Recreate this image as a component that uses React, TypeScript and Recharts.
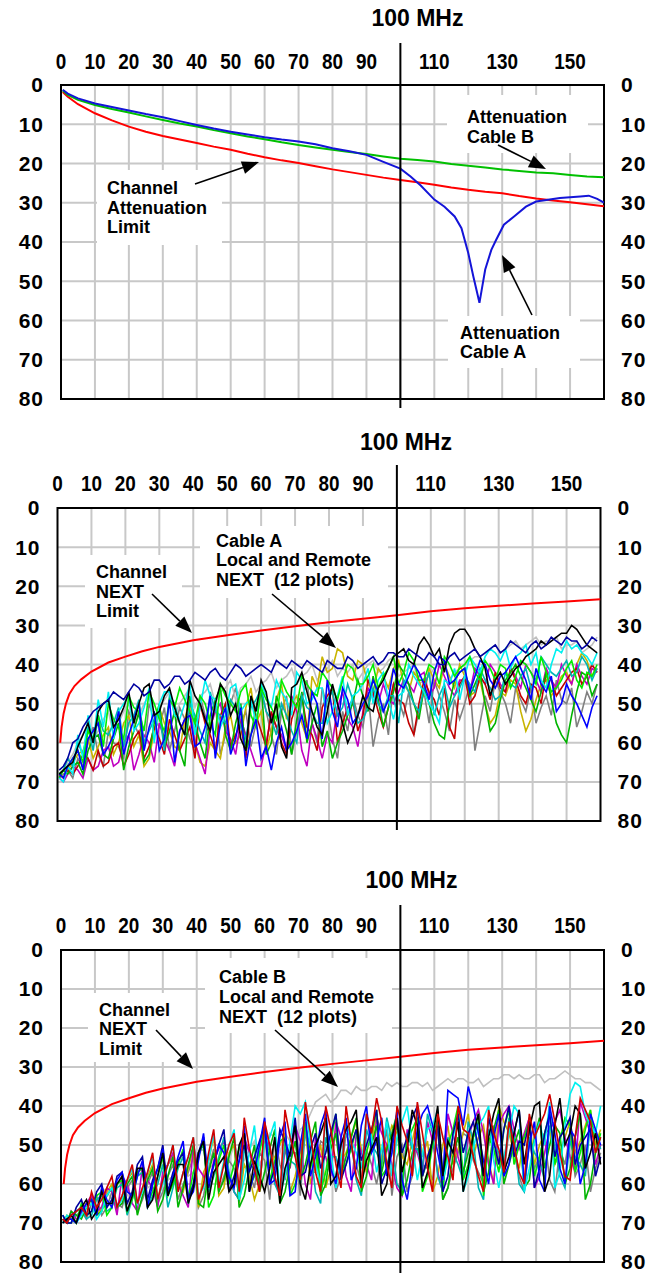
import React from 'react';
import { LineChart, Line, XAxis, YAxis, CartesianGrid, ReferenceLine, ReferenceArea } from 'recharts';

// ---------- axes ----------
const xTicks = [0, 10, 20, 30, 40, 50, 60, 70, 80, 90, 110, 130, 150];
const yTicks = [0, 10, 20, 30, 40, 50, 60, 70, 80];
const gridX = [10, 20, 30, 40, 50, 60, 70, 80, 90, 100, 110, 120, 130, 140, 150];
const gridY = [10, 20, 30, 40, 50, 60, 70];

// ---------- panel 1 : attenuation ----------
const attenFreq = [0.5, 2, 5, 10, 15, 20, 25, 30, 35, 40, 45, 50, 55, 60, 65, 70, 75, 80, 85, 90, 95, 100, 105, 110, 115, 120, 125, 130, 135, 140, 145, 150, 155, 160];
const attenLimit = [1.8, 3.0, 4.9, 7.2, 9.0, 10.6, 11.9, 13.0, 13.9, 14.8, 15.7, 16.5, 17.5, 18.4, 19.2, 19.9, 20.7, 21.5, 22.2, 22.9, 23.6, 24.2, 24.8, 25.4, 26.1, 26.7, 27.2, 27.6, 28.3, 28.9, 29.4, 29.9, 30.4, 30.9];
const attenCableB = [1.4, 2.5, 3.8, 5.1, 6.1, 7.0, 8.0, 8.9, 9.8, 10.6, 11.5, 12.3, 13.1, 13.8, 14.6, 15.3, 15.9, 16.5, 17.1, 17.6, 18.2, 18.8, 19.1, 19.5, 20.1, 20.6, 21.0, 21.5, 21.9, 22.3, 22.5, 22.9, 23.3, 23.5];
const cableAFreq = [0.5, 2, 5, 10, 15, 20, 25, 30, 35, 40, 45, 50, 55, 60, 65, 70, 75, 80, 85, 90, 95, 100, 103, 106, 110, 113, 116, 118, 120, 121.5, 122.5, 123.3, 124, 125, 126.8, 128.2, 130.5, 133.5, 137, 140, 143, 147, 150, 153, 155.5, 158, 160];
const attenCableA = [1.2, 2.2, 3.4, 4.7, 5.6, 6.5, 7.4, 8.2, 9.2, 10.2, 11.1, 11.9, 12.6, 13.3, 13.9, 14.4, 15.1, 16.1, 16.9, 17.8, 19.6, 21.3, 23.3, 25.6, 29.2, 31.0, 33.5, 36.5, 42.8, 48.8, 52.5, 55.5, 52.0, 47.0, 42.0, 39.5, 35.6, 33.5, 31.0, 29.7, 29.3, 28.8, 28.6, 28.4, 28.2, 29.0, 30.0];

// ---------- NEXT limit (panels 2 & 3) ----------
const nextLimitFreq = [0.8, 1.2, 1.8, 2.5, 3.5, 5, 7, 10, 15, 20, 25, 30, 40, 50, 60, 70, 80, 90, 100, 110, 120, 130, 140, 150, 160];
const nextLimit = [60, 56, 52.5, 50, 47.5, 45.5, 43.8, 41.8, 39.5, 38, 36.6, 35.5, 33.8, 32.5, 31.3, 30.2, 29.2, 28.3, 27.4, 26.4, 25.6, 25, 24.4, 23.9, 23.3];

// ---------- NEXT traces: main sweep points + in-between sweep points ----------
const nextFreq = [0.5, 3, 6, 9, 12, 15, 18, 21, 24, 27, 30, 33, 36, 39, 42, 45, 48, 51, 54, 57, 60, 63, 66, 69, 72, 75, 78, 81, 84, 87, 90, 93, 96, 99, 102, 105, 108, 111, 114, 117, 120, 123, 126, 129, 132, 135, 138, 141, 144, 147, 150, 153, 156, 159];
const nextFreqMid = [1.75, 4.5, 7.5, 10.5, 13.5, 16.5, 19.5, 22.5, 25.5, 28.5, 31.5, 34.5, 37.5, 40.5, 43.5, 46.5, 49.5, 52.5, 55.5, 58.5, 61.5, 64.5, 67.5, 70.5, 73.5, 76.5, 79.5, 82.5, 85.5, 88.5, 91.5, 94.5, 97.5, 100.5, 103.5, 106.5, 109.5, 112.5, 115.5, 118.5, 121.5, 124.5, 127.5, 130.5, 133.5, 136.5, 139.5, 142.5, 145.5, 148.5, 151.5, 154.5, 157.5];

// Cable A
const aGrey = [69, 67, 64, 60, 63, 57, 61, 52, 58, 50, 56, 62, 51, 59, 48, 57, 63, 50, 55, 61, 47, 58, 52, 63, 49, 55, 46, 59, 52, 48, 56, 61, 50, 45, 53, 58, 47, 44, 52, 49, 50, 62, 48, 44, 50, 46, 52, 55, 48, 44, 50, 56, 47, 45];
const aGreyMid = [68, 69, 66, 56, 66, 60, 64, 55, 62, 54, 51, 57, 54, 62, 53, 50, 58, 46, 52, 55, 52, 63, 48, 57, 44, 60, 51, 64, 57, 53, 47, 54, 58, 49, 47, 52, 55, 48, 57, 54, 45, 55, 52, 47, 55, 49, 46, 51, 53, 49, 46, 52, 50];
const aLightGrey = [68, 65, 60, 55, 57, 52, 55, 50, 53, 48, 51, 47, 50, 46, 48, 45, 47, 44, 46, 43, 45, 42, 44, 41, 43, 40, 42, 39, 41, 40, 42, 39, 41, 38, 42, 40, 44, 41, 39, 42, 40, 38, 37, 35, 36, 34, 35, 33, 34, 33, 35, 34, 36, 33];
const aLightGreyMid = [67, 63, 58, 59, 54, 58, 52, 56, 50, 55, 49, 53, 48, 51, 47, 50, 46, 49, 45, 47, 44, 46, 43, 45, 42, 44, 41, 43, 42, 44, 40, 42, 39, 43, 41, 45, 43, 40, 44, 41, 39, 38, 36, 37, 35, 36, 34, 35, 34, 36, 35, 37, 35];
const aOlive = [68, 67, 63, 59, 61, 56, 60, 53, 58, 64, 51, 57, 62, 49, 65, 60, 64, 53, 58, 46, 52, 57, 45, 50, 55, 43, 38, 41, 37, 44, 40, 47, 43, 41, 45, 42, 48, 44, 40, 46, 43, 47, 50, 53, 48, 45, 57, 49, 44, 46, 42, 40, 39, 41];
const aOliveMid = [69, 65, 62, 64, 58, 63, 55, 61, 66, 57, 55, 61, 54, 60, 66, 62, 56, 60, 51, 55, 62, 49, 54, 48, 59, 46, 42, 36, 43, 39, 45, 41, 46, 39, 47, 44, 41, 46, 43, 40, 48, 44, 55, 47, 44, 52, 54, 45, 48, 43, 45, 37, 43];
const aMagenta = [69, 68, 67, 64, 66, 61, 65, 58, 63, 60, 55, 62, 57, 52, 64, 56, 50, 59, 54, 62, 66, 53, 58, 48, 62, 55, 64, 60, 47, 56, 52, 48, 45, 50, 44, 47, 42, 46, 43, 48, 44, 41, 45, 42, 47, 43, 40, 44, 41, 46, 43, 40, 45, 42];
const aMagentaMid = [70, 66, 69, 67, 62, 66, 60, 67, 58, 65, 59, 66, 54, 60, 68, 52, 57, 63, 58, 66, 60, 56, 62, 52, 66, 59, 58, 51, 54, 61, 46, 50, 49, 47, 45, 43, 48, 40, 46, 44, 47, 43, 40, 45, 41, 46, 42, 47, 44, 40, 45, 43, 41];
const aRed = [68, 67, 66, 64, 62, 65, 60, 63, 57, 61, 59, 54, 62, 56, 50, 58, 53, 61, 55, 49, 57, 52, 60, 54, 48, 58, 51, 46, 55, 49, 53, 47, 56, 45, 50, 58, 44, 49, 46, 59, 43, 48, 45, 42, 47, 44, 50, 46, 42, 48, 44, 41, 43, 42];
const aRedMid = [69, 68, 63, 67, 66, 61, 66, 59, 64, 56, 63, 58, 59, 64, 55, 62, 50, 58, 64, 53, 61, 56, 63, 50, 56, 62, 48, 60, 51, 57, 44, 52, 51, 49, 55, 50, 47, 53, 56, 45, 50, 43, 49, 46, 41, 48, 45, 50, 44, 46, 42, 45, 40];
const aGreen = [69, 68, 65, 62, 58, 64, 55, 61, 52, 63, 50, 57, 62, 48, 60, 53, 46, 62, 50, 58, 45, 60, 52, 63, 47, 55, 61, 64, 57, 50, 48, 43, 56, 47, 42, 50, 46, 55, 59, 44, 41, 45, 50, 55, 44, 40, 46, 52, 42, 55, 60, 47, 43, 45];
const aGreenMid = [67, 66, 68, 59, 63, 59, 67, 57, 65, 55, 61, 52, 66, 55, 64, 49, 58, 55, 62, 51, 63, 48, 57, 54, 60, 50, 57, 60, 53, 44, 52, 49, 51, 40, 45, 54, 50, 58, 50, 42, 48, 42, 57, 49, 42, 43, 49, 47, 49, 58, 53, 42, 48];
const aTeal = [68, 64, 60, 56, 53, 58, 51, 55, 49, 57, 52, 48, 55, 50, 57, 47, 53, 49, 56, 51, 46, 54, 50, 57, 48, 52, 55, 47, 51, 49, 54, 46, 52, 48, 44, 50, 46, 53, 45, 48, 43, 47, 44, 49, 42, 46, 41, 44, 40, 43, 39, 42, 40, 41];
const aTealMid = [67, 66, 63, 62, 57, 55, 61, 53, 60, 54, 62, 50, 58, 53, 60, 52, 55, 51, 59, 49, 52, 58, 53, 60, 51, 55, 49, 53, 45, 55, 51, 50, 48, 55, 47, 52, 42, 48, 51, 46, 45, 41, 46, 48, 45, 43, 46, 38, 42, 41, 43, 38, 44];
const aCyan = [69, 66, 58, 53, 49, 47, 52, 48, 55, 46, 50, 47, 54, 45, 51, 48, 56, 46, 52, 49, 45, 51, 47, 53, 44, 49, 46, 52, 43, 48, 45, 50, 42, 54, 47, 43, 47, 52, 44, 41, 43, 40, 38, 37, 36, 38, 35, 37, 46, 36, 34, 35, 38, 37];
const aCyanMid = [70, 68, 64, 60, 56, 59, 50, 57, 51, 60, 47, 53, 50, 58, 44, 49, 53, 45, 50, 55, 48, 44, 49, 42, 50, 46, 55, 48, 53, 47, 41, 44, 49, 48, 40, 45, 50, 55, 45, 49, 38, 42, 36, 39, 41, 37, 40, 44, 40, 37, 36, 37, 40];
const aLime = [68, 66, 62, 57, 53, 50, 56, 48, 52, 47, 54, 49, 46, 52, 48, 55, 45, 50, 47, 53, 46, 51, 44, 49, 43, 47, 42, 46, 44, 41, 45, 40, 43, 38, 42, 39, 44, 41, 38, 43, 40, 42, 39, 44, 41, 43, 40, 45, 42, 46, 41, 44, 42, 40];
const aLimeMid = [67, 64, 65, 59, 61, 54, 59, 51, 57, 50, 57, 51, 49, 55, 50, 58, 48, 52, 45, 56, 49, 54, 47, 51, 45, 48, 44, 49, 40, 45, 43, 46, 41, 45, 37, 44, 40, 45, 40, 41, 38, 44, 41, 40, 46, 39, 42, 38, 47, 44, 39, 46, 43];
const aBlue = [68, 66, 62, 59, 55, 61, 52, 58, 50, 56, 62, 49, 57, 53, 60, 48, 55, 63, 51, 58, 64, 67, 56, 60, 53, 47, 59, 52, 46, 55, 50, 44, 52, 41, 46, 40, 45, 42, 39, 44, 41, 43, 40, 46, 42, 38, 44, 41, 47, 52, 45, 50, 56, 48];
const aBlueMid = [69, 64, 67, 57, 63, 58, 63, 54, 62, 52, 59, 65, 54, 61, 56, 64, 51, 59, 66, 54, 61, 60, 62, 57, 59, 50, 44, 56, 49, 53, 48, 47, 49, 45, 43, 42, 49, 38, 45, 42, 47, 39, 44, 43, 40, 41, 49, 45, 43, 50, 48, 53, 51];
const aBlack = [68, 66, 61, 55, 52, 49, 54, 47, 50, 45, 52, 46, 55, 44, 50, 57, 45, 53, 59, 48, 44, 55, 61, 46, 42, 52, 58, 45, 55, 57, 48, 52, 44, 38, 36, 40, 33, 38, 42, 32, 31, 36, 41, 44, 45, 41, 38, 36, 35, 33, 32, 31, 35, 37];
const aBlackMid = [67, 65, 58, 60, 50, 56, 51, 55, 46, 53, 48, 51, 58, 48, 54, 50, 47, 50, 62, 52, 47, 50, 64, 45, 47, 56, 52, 50, 60, 53, 51, 46, 41, 37, 39, 35, 35, 36, 35, 31, 33, 38, 48, 42, 43, 40, 37, 34, 34, 32, 30, 33, 36];
const aNavy = [67, 64, 59, 54, 51, 49, 48, 47, 46, 47, 44, 45, 43, 44, 43, 42, 43, 42, 41, 42, 40, 42, 40, 39, 41, 40, 42, 40, 41, 39, 40, 38, 39, 37, 38, 37, 39, 38, 40, 37, 38, 36, 37, 35, 36, 35, 37, 34, 35, 34, 33, 34, 35, 34];
const aNavyMid = [66, 60, 56, 52, 50, 47, 49, 45, 48, 44, 46, 43, 45, 42, 44, 41, 44, 40, 43, 41, 41, 39, 41, 40, 39, 41, 39, 41, 38, 41, 39, 40, 37, 38, 36, 38, 37, 40, 38, 39, 37, 38, 36, 37, 34, 36, 35, 36, 33, 35, 34, 36, 33];

// Cable B
const bLightGrey = [69, 68, 66, 63, 61, 64, 59, 62, 57, 60, 55, 58, 53, 57, 51, 55, 52, 50, 54, 49, 52, 48, 47, 50, 45, 39, 37, 38, 36, 35, 36, 35, 34, 34, 35, 34, 34, 35, 33, 33, 34, 33, 34, 33, 32, 32, 33, 32, 33, 32, 32, 33, 34, 36];
const bLightGreyMid = [70, 67, 65, 66, 62, 60, 63, 58, 61, 56, 59, 54, 58, 52, 56, 50, 54, 53, 51, 55, 47, 52, 49, 46, 42, 38, 39, 36, 37, 36, 35, 36, 35, 35, 34, 35, 36, 34, 34, 33, 34, 35, 33, 32, 33, 33, 32, 34, 33, 31, 33, 34, 35];
const bGrey = [69, 70, 67, 65, 68, 62, 66, 59, 64, 57, 62, 55, 60, 53, 63, 51, 58, 56, 50, 61, 54, 48, 59, 52, 46, 57, 50, 62, 47, 55, 51, 60, 46, 53, 62, 49, 56, 45, 61, 52, 48, 57, 50, 54, 46, 58, 49, 53, 59, 51, 47, 55, 62, 52];
const bGreyMid = [70, 68, 69, 63, 66, 65, 61, 67, 60, 65, 58, 64, 57, 66, 56, 62, 54, 63, 57, 52, 64, 55, 52, 63, 57, 49, 54, 58, 51, 60, 55, 53, 63, 50, 58, 55, 59, 64, 56, 47, 54, 60, 45, 58, 52, 62, 56, 48, 62, 55, 58, 50, 56];
const bOlive = [70, 69, 67, 64, 66, 60, 63, 57, 61, 55, 58, 53, 62, 51, 57, 48, 61, 50, 55, 64, 49, 53, 47, 58, 45, 55, 61, 46, 52, 44, 57, 42, 50, 47, 55, 43, 49, 58, 45, 51, 42, 48, 54, 40, 47, 56, 43, 50, 46, 52, 44, 49, 41, 46];
const bOliveMid = [68, 70, 65, 68, 62, 66, 59, 65, 58, 64, 55, 60, 56, 66, 54, 63, 52, 65, 58, 60, 55, 50, 62, 52, 60, 50, 56, 54, 48, 51, 49, 55, 45, 53, 49, 53, 62, 50, 55, 47, 53, 45, 60, 44, 52, 48, 55, 47, 55, 48, 52, 45, 50];
const bMagenta = [69, 67, 68, 63, 66, 62, 58, 65, 55, 61, 57, 52, 63, 50, 58, 54, 49, 62, 48, 56, 46, 59, 51, 45, 60, 48, 53, 44, 58, 47, 55, 43, 50, 61, 46, 52, 44, 57, 42, 53, 48, 41, 55, 45, 40, 51, 43, 58, 46, 41, 53, 39, 47, 50];
const bMagentaMid = [70, 69, 65, 67, 61, 68, 60, 67, 59, 66, 55, 60, 66, 56, 61, 51, 58, 64, 52, 60, 51, 63, 56, 49, 64, 53, 58, 48, 62, 52, 59, 47, 55, 63, 50, 57, 49, 62, 47, 58, 44, 47, 60, 42, 46, 47, 61, 52, 44, 48, 57, 43, 55];
const bTeal = [68, 70, 66, 68, 63, 66, 60, 64, 57, 63, 55, 61, 53, 60, 50, 58, 48, 62, 51, 56, 47, 60, 49, 55, 45, 62, 48, 53, 44, 59, 46, 52, 43, 60, 47, 51, 42, 58, 48, 55, 44, 61, 46, 52, 43, 60, 48, 54, 45, 58, 49, 55, 44, 51];
const bTealMid = [70, 67, 69, 64, 67, 61, 68, 58, 66, 60, 66, 56, 65, 52, 62, 53, 57, 64, 55, 61, 52, 63, 54, 60, 51, 65, 53, 58, 49, 63, 50, 55, 49, 62, 51, 56, 47, 62, 52, 59, 49, 64, 50, 57, 48, 62, 52, 59, 50, 61, 53, 58, 47];
const bGreen = [69, 67, 69, 64, 67, 61, 65, 58, 63, 56, 64, 53, 61, 50, 66, 52, 59, 48, 63, 50, 57, 46, 62, 49, 55, 44, 60, 47, 53, 43, 58, 45, 51, 42, 59, 47, 54, 43, 61, 48, 52, 44, 57, 41, 55, 46, 59, 43, 50, 47, 56, 42, 60, 48];
const bGreenMid = [70, 68, 66, 68, 63, 66, 60, 68, 59, 67, 58, 66, 55, 65, 57, 62, 53, 66, 56, 62, 51, 65, 55, 59, 49, 63, 51, 58, 48, 62, 50, 57, 47, 63, 52, 58, 49, 64, 53, 57, 48, 62, 46, 60, 50, 61, 48, 56, 45, 60, 48, 64, 52];
const bLime = [70, 68, 65, 67, 62, 66, 59, 64, 56, 62, 53, 60, 51, 57, 49, 63, 50, 55, 47, 58, 45, 54, 48, 60, 44, 51, 57, 42, 55, 46, 52, 41, 56, 45, 49, 43, 58, 44, 50, 40, 55, 42, 48, 57, 41, 50, 44, 53, 42, 49, 45, 52, 41, 47];
const bLimeMid = [69, 70, 68, 63, 68, 60, 67, 57, 65, 58, 63, 55, 64, 53, 66, 54, 60, 51, 61, 52, 59, 49, 63, 55, 56, 62, 49, 58, 51, 60, 47, 58, 49, 60, 46, 62, 50, 61, 46, 59, 48, 63, 51, 46, 55, 48, 58, 47, 55, 43, 57, 46, 52];
const bCyan = [70, 69, 68, 65, 67, 61, 64, 56, 62, 53, 60, 50, 57, 48, 61, 47, 54, 46, 59, 45, 50, 44, 58, 40, 39, 55, 43, 61, 45, 52, 42, 57, 44, 48, 40, 59, 46, 41, 54, 43, 58, 45, 40, 61, 47, 42, 56, 44, 39, 57, 37, 35, 45, 40];
const bCyanMid = [68, 70, 66, 69, 63, 66, 59, 65, 57, 64, 55, 62, 53, 63, 54, 60, 50, 64, 52, 58, 48, 63, 49, 42, 50, 60, 52, 54, 49, 56, 48, 51, 58, 44, 50, 52, 45, 59, 48, 62, 51, 43, 54, 53, 40, 62, 49, 50, 61, 45, 34, 42, 47];
const bNavy = [68, 70, 64, 67, 60, 64, 57, 62, 53, 59, 50, 57, 52, 60, 48, 55, 46, 58, 50, 53, 45, 56, 49, 43, 57, 47, 52, 42, 55, 46, 50, 41, 56, 44, 48, 40, 53, 45, 58, 42, 47, 51, 43, 55, 40, 49, 44, 56, 42, 48, 43, 50, 46, 53];
const bNavyMid = [70, 66, 68, 62, 66, 58, 65, 55, 64, 56, 62, 54, 64, 52, 61, 50, 62, 54, 57, 49, 60, 46, 53, 58, 51, 56, 47, 59, 50, 54, 46, 60, 50, 52, 43, 58, 49, 62, 47, 52, 44, 58, 49, 46, 53, 50, 61, 47, 53, 46, 55, 48, 58];
const bBlue = [70, 69, 67, 64, 61, 66, 57, 63, 54, 60, 51, 58, 49, 62, 47, 55, 52, 61, 45, 57, 43, 59, 44, 62, 42, 53, 41, 60, 43, 56, 40, 49, 58, 41, 64, 46, 40, 52, 36, 38, 35, 47, 60, 42, 55, 41, 50, 59, 40, 56, 46, 60, 42, 50];
const bBlueMid = [69, 70, 65, 68, 64, 59, 62, 58, 66, 56, 63, 53, 64, 54, 60, 50, 58, 54, 62, 50, 60, 48, 63, 50, 58, 45, 56, 48, 59, 45, 52, 43, 52, 59, 55, 42, 45, 59, 37, 45, 40, 54, 48, 58, 47, 60, 44, 62, 47, 60, 48, 55, 46];
const bBlack = [70, 68, 66, 69, 62, 65, 58, 63, 56, 64, 52, 59, 55, 61, 49, 57, 53, 60, 47, 54, 62, 48, 56, 45, 64, 50, 43, 58, 46, 41, 54, 48, 60, 43, 51, 45, 57, 40, 49, 44, 56, 42, 48, 38, 53, 41, 46, 39, 58, 38, 47, 42, 52, 55];
const bBlackMid = [69, 70, 64, 67, 65, 60, 67, 56, 66, 58, 63, 55, 65, 52, 64, 55, 62, 50, 62, 58, 56, 65, 52, 60, 55, 47, 60, 50, 44, 60, 51, 63, 48, 57, 41, 61, 48, 58, 52, 62, 47, 58, 42, 57, 47, 55, 40, 62, 45, 50, 40, 56, 47];
const bRed = [69, 68, 66, 62, 64, 58, 63, 55, 61, 52, 59, 50, 57, 48, 60, 46, 55, 47, 43, 56, 44, 58, 41, 53, 39, 57, 40, 55, 40, 58, 42, 38, 55, 40, 49, 39, 56, 42, 53, 40, 47, 58, 41, 51, 44, 57, 42, 45, 37, 52, 59, 38, 44, 48];
const bRedMid = [70, 67, 68, 66, 61, 66, 59, 65, 57, 64, 55, 62, 53, 64, 52, 61, 50, 62, 51, 62, 50, 63, 48, 59, 47, 62, 46, 61, 49, 61, 47, 44, 61, 45, 58, 47, 62, 48, 59, 46, 53, 62, 47, 57, 50, 60, 48, 42, 44, 58, 48, 41, 52];

type Pt = { x: number; y: number };
// merge the main sweep points with the in-between sweep points, in frequency order
const sweep = (main: number[], mid: number[]): Pt[] => {
  const out: Pt[] = [];
  main.forEach((v, i) => {
    out.push({ x: nextFreq[i], y: v });
    if (i < mid.length) out.push({ x: nextFreqMid[i], y: mid[i] });
  });
  return out;
};
const toPts = (xs: number[], ys: number[]): Pt[] => xs.map((x, i) => ({ x, y: ys[i] }));

type Series = { key: string; color: string; width: number; data: Pt[] };

const panel1Series: Series[] = [
  { key: 'limit', color: '#ff0000', width: 2, data: toPts(attenFreq, attenLimit) },
  { key: 'cableB', color: '#00c000', width: 2, data: toPts(attenFreq, attenCableB) },
  { key: 'cableA', color: '#1414d8', width: 2, data: toPts(cableAFreq, attenCableA) },
];

const nw = 1.6;
const panel2Series: Series[] = [
  { key: 'grey', color: '#808080', width: nw, data: sweep(aGrey, aGreyMid) },
  { key: 'lgrey', color: '#c0c0c0', width: nw, data: sweep(aLightGrey, aLightGreyMid) },
  { key: 'olive', color: '#c8b400', width: nw, data: sweep(aOlive, aOliveMid) },
  { key: 'magenta', color: '#c000c0', width: nw, data: sweep(aMagenta, aMagentaMid) },
  { key: 'red', color: '#c00000', width: nw, data: sweep(aRed, aRedMid) },
  { key: 'green', color: '#00b400', width: nw, data: sweep(aGreen, aGreenMid) },
  { key: 'teal', color: '#00b4b4', width: nw, data: sweep(aTeal, aTealMid) },
  { key: 'cyan', color: '#00f0f0', width: nw, data: sweep(aCyan, aCyanMid) },
  { key: 'lime', color: '#00ee00', width: nw, data: sweep(aLime, aLimeMid) },
  { key: 'blue', color: '#0000ff', width: nw, data: sweep(aBlue, aBlueMid) },
  { key: 'black', color: '#000000', width: nw, data: sweep(aBlack, aBlackMid) },
  { key: 'navy', color: '#0000a0', width: nw, data: sweep(aNavy, aNavyMid) },
  { key: 'limit', color: '#ff0000', width: 2, data: toPts(nextLimitFreq, nextLimit) },
];

const panel3Series: Series[] = [
  { key: 'lgrey', color: '#c0c0c0', width: nw, data: sweep(bLightGrey, bLightGreyMid) },
  { key: 'grey', color: '#808080', width: nw, data: sweep(bGrey, bGreyMid) },
  { key: 'olive', color: '#c8b400', width: nw, data: sweep(bOlive, bOliveMid) },
  { key: 'magenta', color: '#c000c0', width: nw, data: sweep(bMagenta, bMagentaMid) },
  { key: 'teal', color: '#00b4b4', width: nw, data: sweep(bTeal, bTealMid) },
  { key: 'green', color: '#00b400', width: nw, data: sweep(bGreen, bGreenMid) },
  { key: 'lime', color: '#00ee00', width: nw, data: sweep(bLime, bLimeMid) },
  { key: 'cyan', color: '#00f0f0', width: nw, data: sweep(bCyan, bCyanMid) },
  { key: 'navy', color: '#0000a0', width: nw, data: sweep(bNavy, bNavyMid) },
  { key: 'blue', color: '#0000ff', width: nw, data: sweep(bBlue, bBlueMid) },
  { key: 'black', color: '#000000', width: nw, data: sweep(bBlack, bBlackMid) },
  { key: 'red', color: '#d00000', width: nw, data: sweep(bRed, bRedMid) },
  { key: 'limit', color: '#ff0000', width: 2, data: toPts(nextLimitFreq, nextLimit) },
];

const FONT = "'Liberation Sans', Arial, Helvetica, sans-serif";

// condensed bold frequency labels along the top
const FreqTick = (props: any) => {
  const { x, y, payload } = props;
  return (
    <text
      transform={`translate(${x},${y}) scale(0.86,1)`}
      textAnchor="middle"
      fontFamily={FONT}
      fontWeight={700}
      fontSize={22}
      fill="#000"
    >
      {payload.value}
    </text>
  );
};

type PanelProps = {
  top: number;
  height: number;
  plotTop: number;
  plotBottom: number;
  plotLeft: number;
  plotRight: number;
  series: Series[];
  xTickMargin: number;
  lineUp: number;
  lineDown: number;
  labelDx: number;
  labelUp: number;
};

function Panel(p: PanelProps) {
  const mhz = (props: any) => {
    const x = props.x1;
    const yTop = Math.min(props.y1, props.y2);
    const yBot = Math.max(props.y1, props.y2);
    return (
      <g>
        <line x1={x} x2={x} y1={yTop - p.lineUp} y2={yBot + p.lineDown} stroke="#000" strokeWidth={2} />
        <text x={x + p.labelDx} y={yTop - p.labelUp} fontFamily={FONT} fontWeight={700} fontSize={23} fill="#000">
          100 MHz
        </text>
      </g>
    );
  };
  return (
    <div style={{ position: 'absolute', left: 0, top: p.top, width: 648, height: p.height }}>
      <LineChart
        width={648}
        height={p.height}
        margin={{ top: p.plotTop - 30, right: 0, bottom: p.height - p.plotBottom, left: 0 }}
      >
        <CartesianGrid
          yAxisId="l"
          stroke="#c8c8c8"
          strokeWidth={2}
          horizontalValues={gridY}
          verticalValues={gridX}
        />
        <XAxis
          type="number"
          dataKey="x"
          domain={[0, 160]}
          ticks={xTicks}
          interval={0}
          orientation="top"
          height={30}
          axisLine={false}
          tickLine={false}
          tickSize={0}
          tickMargin={p.xTickMargin}
          allowDataOverflow
          tick={FreqTick}
        />
        <YAxis
          yAxisId="l"
          type="number"
          domain={[0, 80]}
          ticks={yTicks}
          interval={0}
          reversed
          width={p.plotLeft}
          axisLine={false}
          tickLine={false}
          tickSize={0}
          tickMargin={17}
          allowDataOverflow
          tick={{ fill: '#000', fontSize: 21, fontWeight: 700, fontFamily: FONT, letterSpacing: 1 }}
        />
        <YAxis
          yAxisId="r"
          orientation="right"
          type="number"
          domain={[0, 80]}
          ticks={yTicks}
          interval={0}
          reversed
          width={648 - p.plotRight}
          axisLine={false}
          tickLine={false}
          tickSize={0}
          tickMargin={17}
          allowDataOverflow
          tick={{ fill: '#000', fontSize: 21, fontWeight: 700, fontFamily: FONT, letterSpacing: 1 }}
        />
        {p.series.map((s) => (
          <Line
            key={s.key}
            yAxisId="l"
            data={s.data}
            dataKey="y"
            type="linear"
            stroke={s.color}
            strokeWidth={s.width}
            dot={false}
            activeDot={false}
            isAnimationActive={false}
          />
        ))}
        <ReferenceArea
          yAxisId="l"
          x1={0}
          x2={160}
          y1={0}
          y2={80}
          fill="none"
          fillOpacity={0}
          stroke="#000"
          strokeWidth={2}
          ifOverflow="visible"
        />
        <ReferenceLine yAxisId="l" x={100} ifOverflow="visible" shape={mhz} />
      </LineChart>
    </div>
  );
}

// ---------- annotations ----------
type Note = { box: [number, number, number, number]; x: number; y: number; lh: number; lines: string[] };
const notes: Note[] = [
  { box: [97, 170, 125, 75], x: 107, y: 194, lh: 19.6, lines: ['Channel', 'Attenuation', 'Limit'] },
  { box: [447, 95, 141, 58], x: 467, y: 123, lh: 19.6, lines: ['Attenuation', 'Cable B'] },
  { box: [448, 316, 132, 52], x: 460, y: 338.5, lh: 19.6, lines: ['Attenuation', 'Cable A'] },
  { box: [85, 555, 97, 73], x: 96, y: 578, lh: 19.6, lines: ['Channel', 'NEXT', 'Limit'] },
  { box: [200, 526, 188, 72], x: 216, y: 546.5, lh: 19.8, lines: ['Cable A', 'Local and Remote', 'NEXT  (12 plots)'] },
  { box: [88, 993, 102, 69], x: 99, y: 1015.5, lh: 19.6, lines: ['Channel', 'NEXT', 'Limit'] },
  { box: [205, 958, 187, 75], x: 219, y: 982.5, lh: 20, lines: ['Cable B', 'Local and Remote', 'NEXT  (12 plots)'] },
];
const arrows: [number, number, number, number][] = [
  [195, 184, 259, 162],
  [498, 145, 546, 169],
  [532, 315, 502, 255],
  [152, 594, 192, 633],
  [272, 594, 336, 648],
  [156, 1030, 193, 1069],
  [275, 1030, 338, 1087],
];

function Arrow({ a }: { a: [number, number, number, number] }) {
  const [x1, y1, x2, y2] = a;
  const dx = x2 - x1;
  const dy = y2 - y1;
  const len = Math.sqrt(dx * dx + dy * dy);
  const ux = dx / len;
  const uy = dy / len;
  const L = 17;
  const H = 6.5;
  const bx = x2 - ux * L;
  const by = y2 - uy * L;
  const pts = `${x2},${y2} ${bx - uy * H},${by + ux * H} ${bx + uy * H},${by - ux * H}`;
  return (
    <g>
      <line x1={x1} y1={y1} x2={bx} y2={by} stroke="#000" strokeWidth={1.6} />
      <polygon points={pts} fill="#000" />
    </g>
  );
}

export default function App() {
  return (
    <div style={{ position: 'absolute', left: 0, top: 0, width: 648, height: 1273, background: '#fff', overflow: 'hidden' }}>
      <Panel
        top={0}
        height={420}
        plotTop={85}
        plotBottom={399}
        plotLeft={61}
        plotRight={604}
        series={panel1Series}
        xTickMargin={16}
        lineUp={42}
        lineDown={9}
        labelDx={-29}
        labelUp={59}
      />
      <Panel
        top={420}
        height={420}
        plotTop={88}
        plotBottom={401}
        plotLeft={57.5}
        plotRight={600.5}
        series={panel2Series}
        xTickMargin={17}
        lineUp={43}
        lineDown={9}
        labelDx={-37}
        labelUp={58}
      />
      <Panel
        top={860}
        height={413}
        plotTop={90}
        plotBottom={402}
        plotLeft={61}
        plotRight={604}
        series={panel3Series}
        xTickMargin={17}
        lineUp={45}
        lineDown={11}
        labelDx={-35}
        labelUp={62}
      />
      <svg width={648} height={1273} style={{ position: 'absolute', left: 0, top: 0, pointerEvents: 'none' }}>
        {notes.map((n, i) => (
          <g key={i}>
            <rect x={n.box[0]} y={n.box[1]} width={n.box[2]} height={n.box[3]} fill="#fff" />
            {n.lines.map((t, j) => (
              <text
                key={j}
                x={n.x}
                y={n.y + j * n.lh}
                fontFamily={FONT}
                fontWeight={700}
                fontSize={18}
                fill="#000"
                style={{ whiteSpace: 'pre' }}
              >
                {t}
              </text>
            ))}
          </g>
        ))}
        {arrows.map((a, i) => (
          <Arrow key={i} a={a} />
        ))}
      </svg>
    </div>
  );
}
